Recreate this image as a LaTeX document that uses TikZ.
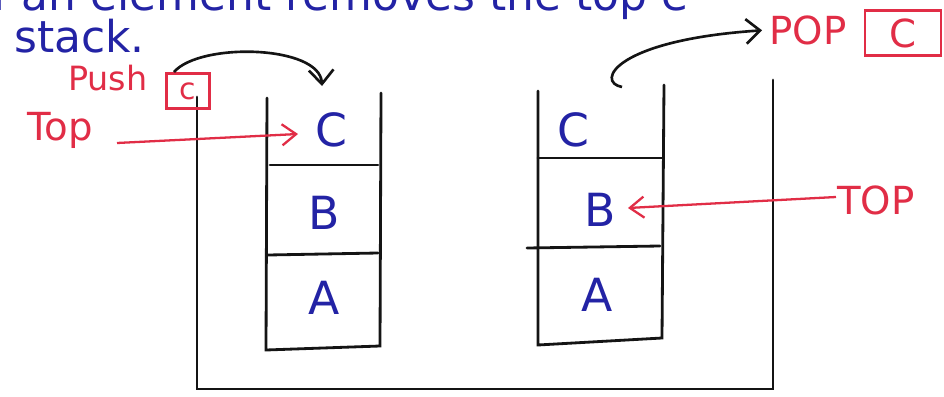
\documentclass[tikz,border=0pt]{standalone}
\usepackage{fontspec}
\setmainfont{DejaVu Sans}
\usetikzlibrary{arrows.meta}
\definecolor{inkblue}{RGB}{35,35,165}
\definecolor{inkred}{RGB}{225,45,70}
\definecolor{inkblack}{RGB}{20,20,20}
\tikzset{
  wall/.style={draw=inkblack, line width=1.6pt, line cap=round},
  letter/.style={text=inkblue, font=\fontsize{26}{30}\selectfont, inner sep=1pt},
  bluetext/.style={text=inkblue, font=\fontsize{25}{30}\selectfont, inner sep=0pt},
  redtext/.style={text=inkred, font=\fontsize{22}{26}\selectfont, inner sep=1pt},
  redbox/.style={draw=inkred, line width=1.3pt, text=inkred, inner sep=0pt},
  redarrow/.style={draw=inkred, line width=1.3pt, -{Straight Barb[length=8pt,width=12pt]}},
  blackarrow/.style={draw=inkblack, line width=1.5pt, -{Straight Barb[length=8pt,width=14pt]}}
}
\begin{document}
\begin{tikzpicture}[x=0.02cm,y=-0.02cm]
\useasboundingbox (0,0) rectangle (944,396);
\clip (0,0) rectangle (944,396);
\fill[white] (0,0) rectangle (944,396);

% cut-off blue handwriting
\node[bluetext, anchor=west] (line1) at (-8,-2) {f an element removes the top e};
\node[bluetext, anchor=base west] (line2) at (14,52) {stack.};

% outer container
\draw[wall] (197,97) -- (197,389) -- (773,389) -- (773,80);

% left stack
\draw[wall] (267,98) -- (266,350) -- (380,346) -- (381,93);
\draw[wall] (270,165) -- (378,165);
\draw[wall] (268,255) -- (378,253);
\node[letter] (lC) at (331,130) {C};
\node[letter] (lB) at (324,213) {B};
\node[letter] (lA) at (324,298) {A};

% right stack
\draw[wall] (538,91) -- (538,345) -- (662,338) -- (664,85);
\draw[wall] (538,158) -- (663,158);
\draw[wall] (527,248) -- (660,246);
\node[letter] (rC) at (573,130) {C};
\node[letter] (rB) at (600,210) {B};
\node[letter] (rA) at (597,295) {A};

% push label
\node[redtext, font=\fontsize{19}{22}\selectfont, anchor=base west] (push) at (66,90) {Push};
\node[redbox, minimum width=0.86cm, minimum height=0.7cm, font=\fontsize{17}{20}\selectfont] (pushbox) at (188,91) {c};
\coordinate (pushend) at (322,86);
\draw[blackarrow] (174,72) .. controls (200,42) and (320,45) .. (pushend);

% top label left
\node[redtext] (topL) at (60,130) {Top};
\coordinate (topLend) at (298,134);
\draw[redarrow] (117,143) -- (topLend);

% pop label
\node[redtext] (pop) at (808,30) {POP};
\node[redbox, minimum width=1.52cm, minimum height=0.9cm, font=\fontsize{22}{26}\selectfont] (popbox) at (903,33) {C};
\coordinate (popstart) at (622,87);
\draw[blackarrow, shorten >=3pt] (popstart) .. controls (595,82) and (615,40) .. (pop.west);

% top label right
\node[redtext] (topR) at (876,200) {TOP};
\coordinate (topRend) at (628,208);
\draw[redarrow] (836,197) -- (topRend);
\end{tikzpicture}
\end{document}
